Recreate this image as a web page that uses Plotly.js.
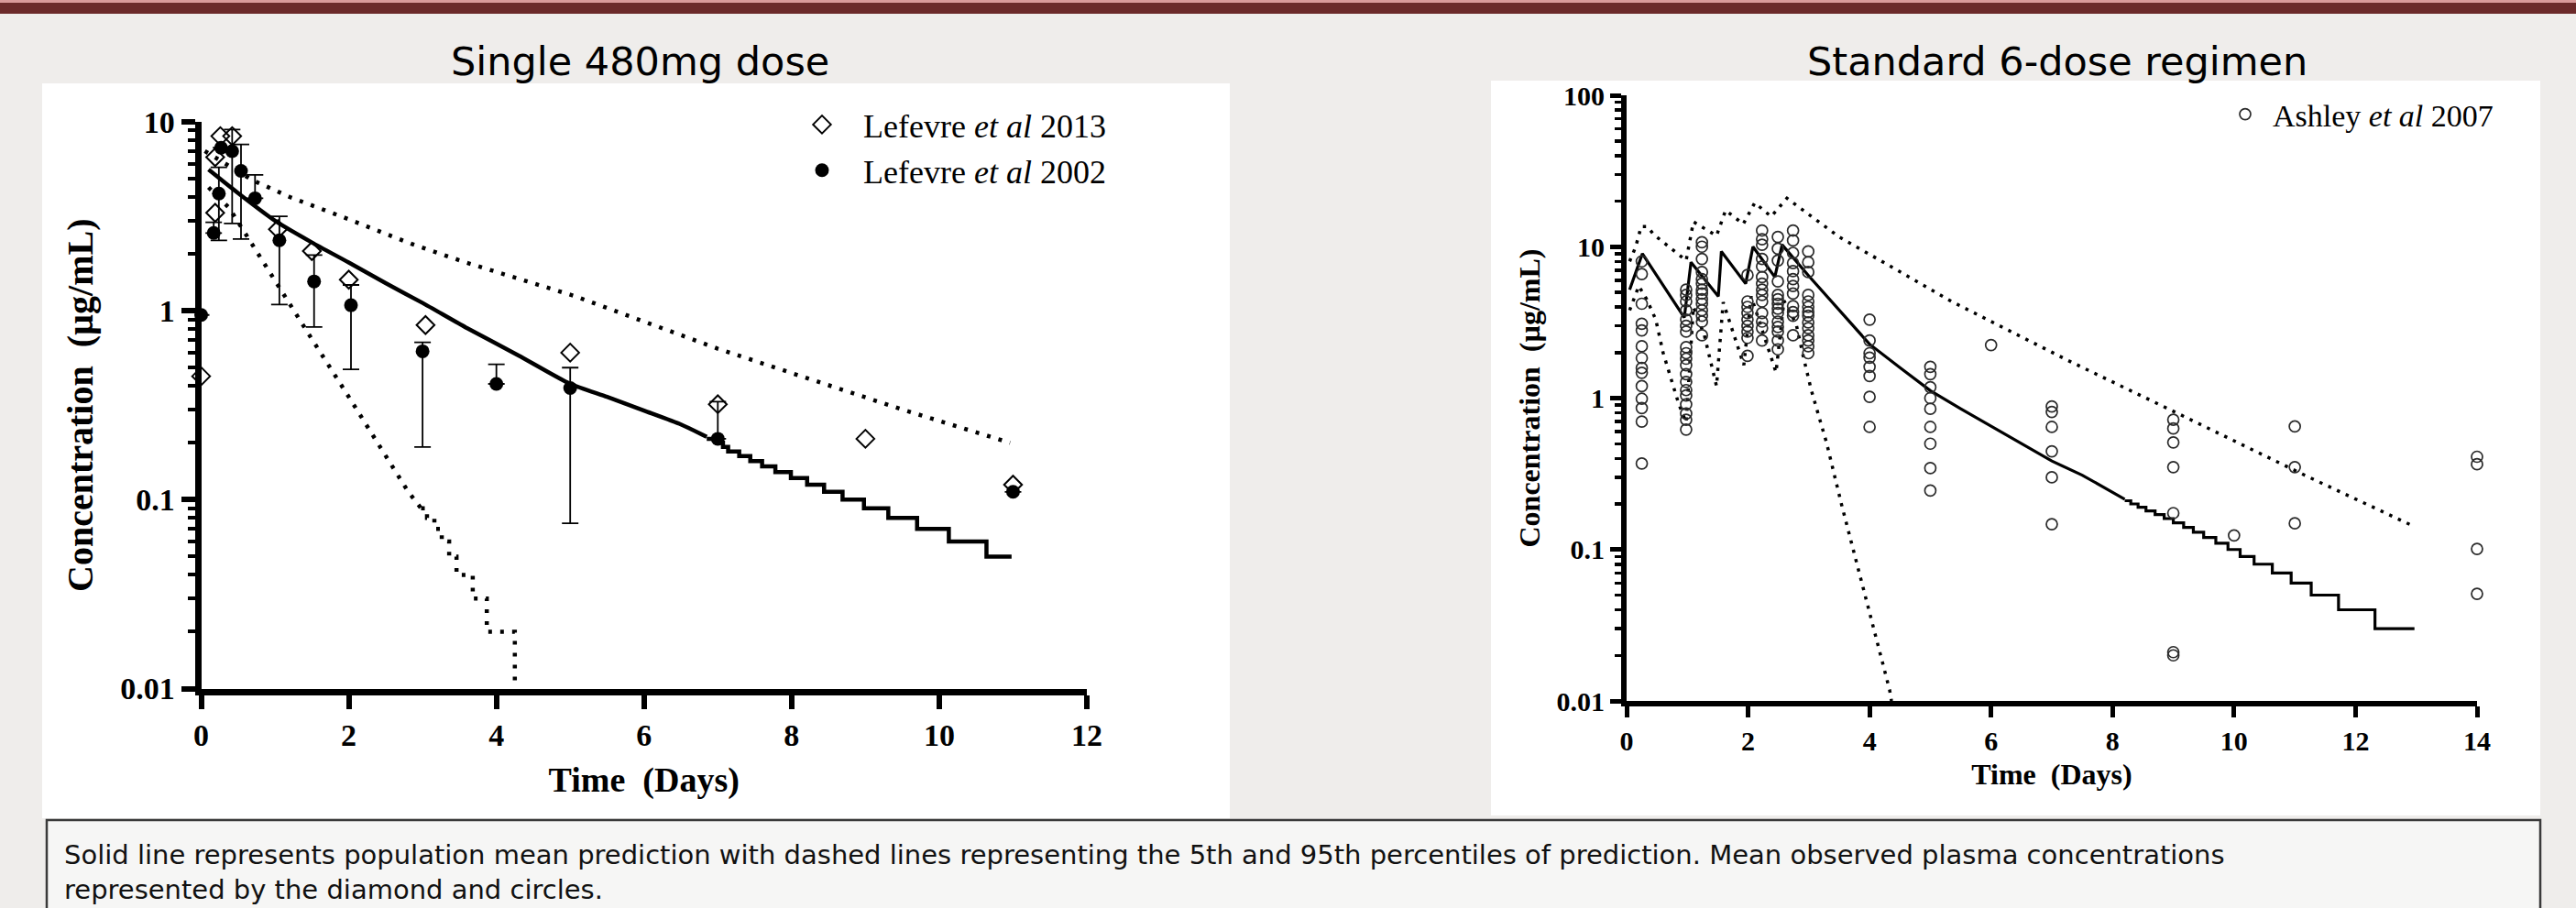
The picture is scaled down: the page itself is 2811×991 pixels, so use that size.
<!DOCTYPE html>
<html>
<head>
<meta charset="utf-8">
<script src="https://cdn.plot.ly/plotly-3.0.1.min.js"></script>
<style>
html,body{margin:0;padding:0;background:#efedeb;}
#chart{width:2811px;height:991px;}
</style>
</head>
<body>
<div id="chart"></div>
<script>
// ---------- Left panel: single 480 mg dose ----------
const lef2013T = [0, 0.19, 0.19, 0.26, 0.42, 1.04, 1.5, 2.0, 3.04, 5, 7, 9, 11];
const lef2013C = [0.45, 3.3, 6.5, 8.4, 8.4, 2.7, 2.07, 1.46, 0.84, 0.6, 0.32, 0.21, 0.12];

const lef2002T  = [0, 0.17, 0.24, 0.27, 0.42, 0.54, 0.73, 1.06, 1.53, 2.03, 3, 4, 5, 7, 11];
const lef2002C  = [0.95, 2.58, 4.17, 7.3, 7.0, 5.5, 3.94, 2.36, 1.43, 1.07, 0.61, 0.41, 0.39, 0.21, 0.11];
const lef2002Up = [0, 0.36, 1.58, 0, 2.1, 2.1, 1.3, 0.8, 0.54, 0.3, 0.07, 0.11, 0.11, 0.12, 0];
const lef2002Dn = [0, 0, 1.81, 0, 4.1, 3.1, 0, 1.28, 0.61, 0.58, 0.42, 0, 0.315, 0, 0];

const leftMeanT = [0.1, 0.5, 1.0, 1.5, 2.0, 2.5, 3.0, 3.6, 4.3, 5.0, 5.5, 6.0, 6.5, 6.85];
const leftMeanC = [5.6, 4.2, 3.0, 2.3, 1.8, 1.4, 1.1, 0.81, 0.58, 0.41, 0.35, 0.296, 0.25, 0.215];
const leftMeanStepT = [6.85, 7.0, 7.07, 7.14, 7.29, 7.44, 7.6, 7.78, 7.99, 8.21, 8.44, 8.69, 8.98, 9.31, 9.7, 10.13, 10.64, 10.98];
const leftMeanStepC = [0.21, 0.20, 0.19, 0.18, 0.17, 0.16, 0.15, 0.14, 0.13, 0.12, 0.11, 0.10, 0.09, 0.08, 0.07, 0.06, 0.05, 0.05];

const leftUpperT = [0.05, 0.4, 0.7, 0.97, 1.2, 2.0, 2.85, 3.57, 5.05, 7.0, 9.5, 10.96];
const leftUpperC = [7.0, 5.8, 4.9, 4.4, 4.0, 3.05, 2.26, 1.81, 1.2, 0.63, 0.30, 0.20];

const leftLowerT = [0.1, 0.38, 0.57, 0.77, 0.98, 1.16, 1.45, 2.0, 2.5, 2.8, 2.98];
const leftLowerC = [4.5, 3.5, 2.67, 2.0, 1.51, 1.15, 0.76, 0.35, 0.17, 0.111, 0.09];
const leftLowerStepT = [2.98, 3.06, 3.16, 3.26, 3.36, 3.46, 3.68, 3.87, 4.25];
const leftLowerStepC = [0.09, 0.08, 0.07, 0.06, 0.05, 0.04, 0.03, 0.02, 0.01];

// ---------- Right panel: standard 6-dose regimen ----------
const ashleyCols = [
  [0.25, [8.0, 6.6, 4.2, 3.1, 2.8, 2.2, 1.84, 1.58, 1.47, 1.2, 0.99, 0.86, 0.70, 0.37]],
  [0.98, [5.2, 4.8, 4.35, 3.8, 3.3, 3.0, 2.75, 2.17, 1.98, 1.82, 1.65, 1.44, 1.28, 1.13, 1.04, 0.91, 0.79, 0.72, 0.62]],
  [1.24, [10.7, 10.0, 8.3, 6.8, 6.1, 5.7, 5.2, 4.9, 4.5, 4.2, 3.8, 3.5, 3.2, 2.6]],
  [1.99, [6.5, 4.35, 4.0, 3.65, 3.3, 3.0, 2.75, 2.5, 1.9]],
  [2.23, [12.8, 11.2, 10.3, 8.3, 7.4, 6.3, 5.7, 5.2, 4.8, 4.35, 3.65, 3.2, 2.9, 2.4]],
  [2.49, [11.6, 9.7, 8.1, 5.9, 4.8, 4.5, 4.2, 3.9, 3.65, 3.2, 2.95, 2.75, 2.4, 2.1]],
  [2.74, [12.8, 11.0, 9.1, 7.8, 6.9, 6.1, 5.5, 4.9, 4.05, 3.7, 3.5, 2.6]],
  [2.99, [9.3, 7.9, 6.8, 4.8, 4.35, 4.0, 3.7, 3.5, 3.16, 2.9, 2.6, 2.4, 2.2, 1.98]],
  [4, [3.3, 2.4, 1.98, 1.85, 1.61, 1.40, 1.02, 0.645]],
  [5, [1.61, 1.44, 1.18, 1.0, 0.85, 0.645, 0.50, 0.345, 0.245]],
  [6, [2.24]],
  [7, [0.88, 0.81, 0.645, 0.445, 0.30, 0.147]],
  [9, [0.72, 0.63, 0.51, 0.35, 0.174, 0.021, 0.020]],
  [10, [0.124]],
  [11, [0.65, 0.35, 0.149]],
  [14, [0.41, 0.366, 0.101, 0.051]]
];

const rightMeanT = [0.05, 0.26, 0.95, 1.06, 1.51, 1.56, 1.96, 2.08, 2.44, 2.56, 3.0, 3.4, 4.0, 4.5, 5.0, 5.5, 6.0, 6.5, 7.0, 7.5, 7.92, 8.2];
const rightMeanC = [5.2, 9.0, 3.4, 7.9, 4.7, 9.3, 5.7, 10.0, 6.3, 10.3, 6.4, 4.2, 2.27, 1.59, 1.12, 0.85, 0.65, 0.50, 0.384, 0.31, 0.25, 0.215];
const rightMeanStepT = [8.2, 8.3, 8.42, 8.55, 8.7, 8.85, 9.0, 9.17, 9.33, 9.5, 9.7, 9.9, 10.1, 10.33, 10.63, 10.94, 11.27, 11.72, 12.32, 12.97];
const rightMeanStepC = [0.21, 0.20, 0.19, 0.18, 0.17, 0.16, 0.15, 0.14, 0.13, 0.12, 0.11, 0.10, 0.09, 0.08, 0.07, 0.06, 0.05, 0.04, 0.03, 0.03];

const rightUpperT = [0.05, 0.15, 0.24, 0.34, 0.45, 0.6, 0.73, 0.88, 0.98, 1.1, 1.48, 1.63, 1.92, 2.11, 2.38, 2.64, 3.5, 5.35, 7.27, 9.08, 11.16, 12.9];
const rightUpperC = [8.0, 10.0, 13.6, 13.6, 12.0, 10.7, 9.7, 8.7, 8.1, 14.6, 11.8, 17.4, 14.1, 19.5, 15.8, 20.9, 11.6, 4.35, 1.77, 0.79, 0.31, 0.146];

const rightLowerT = [0.05, 0.2, 0.33, 0.48, 0.6, 0.75, 0.86, 0.98, 1.1, 1.28, 1.48, 1.59, 1.93, 2.05, 2.46, 2.59, 2.79, 2.92, 3.04, 3.19, 3.29, 3.54, 4.33, 4.36];
const rightLowerC = [3.8, 5.5, 4.5, 3.3, 2.0, 1.25, 0.91, 0.69, 4.0, 2.6, 1.2, 4.3, 1.65, 4.7, 1.48, 4.4, 3.1, 1.8, 1.13, 0.70, 0.51, 0.197, 0.0118, 0.01];

// ---------- Tick labels ----------
const leftYTickVals = [0.01, 0.1, 1, 10];
const leftYTickText = ['0.01', '0.1', '1', '10'];
const rightYTickVals = [0.01, 0.1, 1, 10, 100];
const rightYTickText = ['0.01', '0.1', '1', '10', '100'];
const leftXTickVals = [0, 2, 4, 6, 8, 10, 12];
const rightXTickVals = [0, 2, 4, 6, 8, 10, 12, 14];

const titleLeft = 'Single 480mg dose';
const titleRight = 'Standard 6-dose regimen';
const captionText = 'Solid line represents population mean prediction with dashed lines representing the 5th and 95th percentiles of prediction. Mean observed plasma concentrations<br>represented by the diamond and circles.';

// ---------- helpers ----------
const W = 2811, H = 991;
const fx = p => p / W;
const fy = p => 1 - p / H;
function minorLog(lo, hi) {
  const out = [];
  for (let e = lo; e < hi; e++) for (let d = 2; d <= 9; d++) out.push(d * Math.pow(10, e));
  return out;
}
const ashleyT = [], ashleyC = [];
ashleyCols.forEach(([t, vals]) => vals.forEach(v => { ashleyT.push(t); ashleyC.push(v); }));

const serif = 'Liberation Serif, Times New Roman, serif';
const sans = 'DejaVu Sans, Arial, sans-serif';

const leftDot = {color: 'black', width: 4.5, dash: '4px,9px'};
const rightDot = {color: 'black', width: 3.5, dash: '3.5px,7px'};

const traces = [
  // left panel lines
  {x: leftUpperT, y: leftUpperC, mode: 'lines', line: leftDot, xaxis: 'x', yaxis: 'y', showlegend: false, hoverinfo: 'skip'},
  {x: leftLowerT, y: leftLowerC, mode: 'lines', line: leftDot, xaxis: 'x', yaxis: 'y', showlegend: false, hoverinfo: 'skip'},
  {x: leftLowerStepT, y: leftLowerStepC, mode: 'lines', line: Object.assign({shape: 'hv'}, leftDot), xaxis: 'x', yaxis: 'y', showlegend: false, hoverinfo: 'skip'},
  {x: leftMeanT, y: leftMeanC, mode: 'lines', line: {color: 'black', width: 4.5, shape: 'spline', smoothing: 0.6}, xaxis: 'x', yaxis: 'y', showlegend: false, hoverinfo: 'skip'},
  {x: leftMeanStepT, y: leftMeanStepC, mode: 'lines', line: {color: 'black', width: 4.5, shape: 'hv'}, xaxis: 'x', yaxis: 'y', showlegend: false, hoverinfo: 'skip'},
  // left panel observations
  {x: lef2013T, y: lef2013C, mode: 'markers', name: 'Lefevre <i>et al</i> 2013',
   marker: {symbol: 'diamond-open', size: 15, color: 'black', line: {width: 2, color: 'black'}},
   xaxis: 'x', yaxis: 'y', cliponaxis: false, legend: 'legend'},
  {x: lef2002T, y: lef2002C, mode: 'markers', name: 'Lefevre <i>et al</i> 2002',
   marker: {symbol: 'circle', size: 15, color: 'black'},
   error_y: {type: 'data', symmetric: false, array: lef2002Up, arrayminus: lef2002Dn, color: 'black', thickness: 1.8, width: 9},
   xaxis: 'x', yaxis: 'y', cliponaxis: false, legend: 'legend'},
  // right panel lines
  {x: rightUpperT, y: rightUpperC, mode: 'lines', line: rightDot, xaxis: 'x2', yaxis: 'y2', showlegend: false, hoverinfo: 'skip'},
  {x: rightLowerT, y: rightLowerC, mode: 'lines', line: rightDot, xaxis: 'x2', yaxis: 'y2', showlegend: false, hoverinfo: 'skip'},
  {x: rightMeanT, y: rightMeanC, mode: 'lines', line: {color: 'black', width: 3.2}, xaxis: 'x2', yaxis: 'y2', showlegend: false, hoverinfo: 'skip'},
  {x: rightMeanStepT, y: rightMeanStepC, mode: 'lines', line: {color: 'black', width: 3.2, shape: 'hv'}, xaxis: 'x2', yaxis: 'y2', showlegend: false, hoverinfo: 'skip'},
  // right panel observations
  {x: ashleyT, y: ashleyC, mode: 'markers', name: 'Ashley <i>et al</i> 2007',
   marker: {symbol: 'circle-open', size: 12, color: '#2a2a2a', line: {width: 1.7, color: '#2a2a2a'}},
   xaxis: 'x2', yaxis: 'y2', cliponaxis: false, legend: 'legend2'}
];

function xAxis(domain, range, tickvals, fs, lw, tl, tw, titleFs, standoff) {
  return {
    domain: domain, range: range, tickmode: 'array', tickvals: tickvals,
    showline: true, linecolor: 'black', linewidth: lw,
    ticks: 'outside', ticklen: tl, tickwidth: tw, tickcolor: 'black',
    tickfont: {family: serif, size: fs, color: 'black', weight: 'bold'},
    showgrid: false, zeroline: false, automargin: false, fixedrange: true,
    title: {text: 'Time\u00a0 (Days)', font: {family: serif, size: titleFs, color: 'black', weight: 'bold'}, standoff: standoff}
  };
}
function yAxis(domain, range, tickvals, ticktext, minorVals, fs, lw, tl, tw, mtl, mtw, titleFs, standoff) {
  return {
    type: 'log', domain: domain, range: range, tickmode: 'array', tickvals: tickvals, ticktext: ticktext,
    showline: true, linecolor: 'black', linewidth: lw,
    ticks: 'outside', ticklen: tl, tickwidth: tw, tickcolor: 'black',
    minor: {tickmode: 'array', tickvals: minorVals, ticks: 'outside', ticklen: mtl, tickwidth: mtw, tickcolor: 'black', showgrid: false},
    tickfont: {family: serif, size: fs, color: 'black', weight: 'bold'},
    showgrid: false, zeroline: false, automargin: false, fixedrange: true,
    title: {text: 'Concentration\u00a0 (µg/mL)', font: {family: serif, size: titleFs, color: 'black', weight: 'bold'}, standoff: standoff}
  };
}

const layout = {
  width: W, height: H,
  margin: {l: 0, r: 0, t: 0, b: 0, pad: 0},
  paper_bgcolor: '#efedeb',
  plot_bgcolor: 'rgba(0,0,0,0)',
  showlegend: true,
  xaxis: Object.assign(xAxis([fx(219.5), fx(1186)], [0, 12], leftXTickVals, 34, 7, 15, 6, 38, 20), {anchor: 'y'}),
  yaxis: Object.assign(yAxis([fy(751.5), fy(133)], [-2, 1], leftYTickVals, leftYTickText, minorLog(-2, 1), 34, 7, 15, 6, 8, 4, 40, 20), {anchor: 'x'}),
  xaxis2: Object.assign(xAxis([fx(1775), fx(2703)], [0, 14], rightXTickVals, 30, 6, 12, 5, 32, 12), {anchor: 'y2'}),
  yaxis2: Object.assign(yAxis([fy(765), fy(104)], [-2, 2], rightYTickVals, rightYTickText, minorLog(-2, 2), 30, 6, 12, 5, 7, 3.5, 32, 10), {anchor: 'x2'}),
  legend: {x: fx(852), y: fy(106), xanchor: 'left', yanchor: 'top', bgcolor: 'rgba(0,0,0,0)', borderwidth: 0,
           font: {family: serif, size: 36, color: 'black'}, itemwidth: 80, tracegroupgap: 0},
  legend2: {x: fx(2420), y: fy(96), xanchor: 'left', yanchor: 'top', bgcolor: 'rgba(0,0,0,0)', borderwidth: 0,
            font: {family: serif, size: 34, color: 'black'}, itemwidth: 50},
  shapes: [
    // slide top band
    {type: 'rect', xref: 'paper', yref: 'paper', x0: 0, x1: 1, y0: fy(15), y1: 1, fillcolor: '#6b2a2a', line: {width: 0}, layer: 'below'},
    {type: 'rect', xref: 'paper', yref: 'paper', x0: 0, x1: 1, y0: fy(3), y1: 1, fillcolor: '#d99a9a', line: {width: 0}, layer: 'below'},
    // white chart panels
    {type: 'rect', xref: 'paper', yref: 'paper', x0: fx(46), x1: fx(1342), y0: fy(893), y1: fy(91), fillcolor: 'white', line: {width: 0}, layer: 'below'},
    {type: 'rect', xref: 'paper', yref: 'paper', x0: fx(1627), x1: fx(2772), y0: fy(890), y1: fy(88), fillcolor: 'white', line: {width: 0}, layer: 'below'},
    // caption box
    {type: 'rect', xref: 'paper', yref: 'paper', x0: fx(51), x1: fx(2772), y0: -0.02, y1: fy(895), fillcolor: '#f6f6f5', line: {width: 2.5, color: '#3a3a3a'}, layer: 'below'}
  ],
  annotations: [
    {text: titleLeft, xref: 'paper', yref: 'paper', x: fx(698), y: fy(67), xanchor: 'center', yanchor: 'middle', showarrow: false,
     font: {family: sans, size: 43, color: 'black'}},
    {text: titleRight, xref: 'paper', yref: 'paper', x: fx(2245), y: fy(67), xanchor: 'center', yanchor: 'middle', showarrow: false,
     font: {family: sans, size: 43, color: 'black'}},
    {text: captionText, xref: 'paper', yref: 'paper', x: fx(68), y: fy(952), xanchor: 'left', yanchor: 'middle', align: 'left', showarrow: false,
     font: {family: sans, size: 29, color: '#111'}}
  ]
};

Plotly.newPlot('chart', traces, layout, {staticPlot: true, displayModeBar: false});
</script>
</body>
</html>
